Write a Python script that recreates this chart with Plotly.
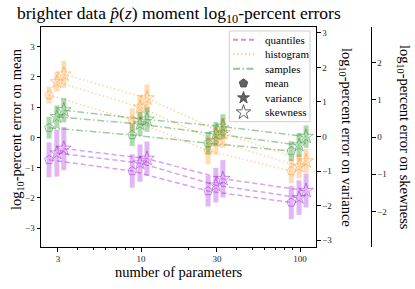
import plotly.graph_objects as go

x_base = [3, 10, 30, 100]
moment_names = ["mean", "variance", "skewness"]
moment_shift = [0.88, 0.985, 1.09]
method_names = ["quantiles", "histogram", "samples"]

# log10-percent errors
quant_mean = [-0.74, -1.11, -1.77, -2.15]
quant_mean_err = [0.58, 0.55, 0.51, 0.55]
quant_var = [-0.48, -0.77, -1.41, -1.77]
quant_var_err = [0.68, 0.54, 0.50, 0.50]
quant_skew = [-0.31, -0.58, -1.12, -1.44]
quant_skew_err = [0.58, 0.46, 0.50, 0.45]

hist_mean = [1.40, 0.58, -0.44, -1.11]
hist_mean_err = [0.28, 0.38, 0.45, 0.40]
hist_var = [1.58, 0.85, -0.13, -0.86]
hist_var_err = [0.28, 0.36, 0.40, 0.35]
hist_skew = [1.68, 1.04, 0.11, -0.65]
hist_skew_err = [0.36, 0.37, 0.40, 0.33]

samp_mean = [0.32, 0.08, -0.19, -0.45]
samp_mean_err = [0.36, 0.36, 0.36, 0.33]
samp_var = [0.57, 0.36, 0.07, -0.25]
samp_var_err = [0.33, 0.35, 0.35, 0.35]
samp_skew = [0.72, 0.47, 0.28, 0.01]
samp_skew_err = [0.33, 0.33, 0.33, 0.30]

data = {
    "quantiles": [(quant_mean, quant_mean_err), (quant_var, quant_var_err), (quant_skew, quant_skew_err)],
    "histogram": [(hist_mean, hist_mean_err), (hist_var, hist_var_err), (hist_skew, hist_skew_err)],
    "samples": [(samp_mean, samp_mean_err), (samp_var, samp_var_err), (samp_skew, samp_skew_err)],
}

colors = {"quantiles": (160, 32, 220), "histogram": (255, 150, 30), "samples": (40, 145, 40)}
line_alpha = {"quantiles": 0.42, "histogram": 0.42, "samples": 0.45}
bar_alpha = {"quantiles": 0.33, "histogram": 0.33, "samples": 0.36}
dashes = {"quantiles": "5px,3px", "histogram": "1.5px,2.5px", "samples": "7px,2.5px,1.5px,2.5px"}
plot_symbols = ["pentagon-open", "star-open", "star-open"]
plot_sizes = [9, 10, 11]
legend_symbols = ["pentagon", "star", "star-open"]
legend_sizes = [9, 9, 11]
yaxes = ["y", "y2", "y3"]

FONT = "Liberation Serif"

def rgba(c, a):
    return "rgba(%d,%d,%d,%.2f)" % (c[0], c[1], c[2], a)

fig = go.Figure()
for m in method_names:
    c = colors[m]
    for k in range(3):
        vals, errs = data[m][k]
        xs = [xb * moment_shift[k] for xb in x_base]
        fig.add_trace(go.Scatter(
            x=xs, y=vals, yaxis=yaxes[k], mode="lines+markers",
            line=dict(color=rgba(c, line_alpha[m]), dash=dashes[m], width=1.5),
            marker=dict(symbol=plot_symbols[k], size=plot_sizes[k], color=rgba(c, 0.5),
                        line=dict(width=1, color=rgba(c, 0.5))),
            error_y=dict(type="data", array=errs, visible=True, thickness=5,
                         width=0, color=rgba(c, bar_alpha[m])),
            showlegend=False, hoverinfo="skip"))

# ---- hand-made legend on a hidden pixel-unit subplot ----
BOX = (229.3, 310.0, 31.0, 121.7)     # left, right, top, bottom (px)
ROWS = [39.7, 54.3, 68.8, 83.3, 97.8, 112.3]
KEY_X = (233.0, 254.0)
TEXT_X = 262.5
fig.add_trace(go.Scatter(
    x=[BOX[0], BOX[1], BOX[1], BOX[0], BOX[0]], y=[BOX[2], BOX[2], BOX[3], BOX[3], BOX[2]],
    xaxis="x2", yaxis="y4", mode="lines", fill="toself",
    fillcolor="rgba(255,255,255,0.82)", line=dict(color="#cfcfcf", width=1),
    showlegend=False, hoverinfo="skip"))
for i, m in enumerate(method_names):
    fig.add_trace(go.Scatter(
        x=list(KEY_X), y=[ROWS[i], ROWS[i]], xaxis="x2", yaxis="y4", mode="lines",
        line=dict(color=rgba(colors[m], 0.5), dash=dashes[m], width=2),
        showlegend=False, hoverinfo="skip"))
for k, mn in enumerate(moment_names):
    fig.add_trace(go.Scatter(
        x=[(KEY_X[0] + KEY_X[1]) / 2], y=[ROWS[3 + k]], xaxis="x2", yaxis="y4", mode="markers",
        marker=dict(symbol=legend_symbols[k], size=legend_sizes[k], color="rgba(70,70,70,0.85)",
                    line=dict(width=1, color="rgba(70,70,70,0.85)")),
        showlegend=False, hoverinfo="skip"))

L, R, T, B = 41, 371, 27, 247
W, H = R - L, B - T
def px(xp):
    return (xp - L) / W
def py(yp):
    return (B - yp) / H

tickfont = dict(family=FONT, size=9, color="#222")
common_y = dict(ticks="outside", ticklen=3.5, tickwidth=0.8, tickcolor="black",
                showline=True, linecolor="black", linewidth=1,
                showgrid=False, zeroline=False, tickfont=tickfont)
fig.update_layout(
    width=415, height=289,
    margin=dict(l=L, r=415 - R, t=T, b=289 - B, pad=0),
    paper_bgcolor="white", plot_bgcolor="white",
    font=dict(family=FONT, size=11, color="black"),
    showlegend=False,
    xaxis=dict(type="log", domain=[0, px(316)], range=[0.371, 2.10],
               tickvals=x_base, ticktext=[str(v) for v in x_base],
               ticks="outside", ticklen=3.5, tickwidth=0.8, tickcolor="black",
               showline=True, linecolor="black", linewidth=1, mirror=True,
               showgrid=False, zeroline=False, tickfont=tickfont,
               minor=dict(tickvals=[4, 5, 6, 7, 8, 9, 20, 40, 50, 60, 70, 80, 90],
                          ticks="outside", ticklen=2, tickwidth=0.6, tickcolor="black")),
    yaxis=dict(range=[-3.62, 3.65], tickvals=[-3, -2, -1, 0, 1, 2, 3], **common_y),
    yaxis2=dict(overlaying="y", side="right", anchor="x", range=[-3.2, 3.17],
                tickvals=[-3, -2, -1, 0, 1, 2, 3], **common_y),
    yaxis3=dict(overlaying="y", side="right", anchor="free", position=1.0,
                range=[-2.95, 2.95], tickvals=[-2, -1, 0, 1, 2], **common_y),
    xaxis2=dict(domain=[px(226), px(313)], range=[226, 313], visible=False,
                anchor="y4", fixedrange=True),
    yaxis4=dict(domain=[py(125), py(28)], range=[125, 28], visible=False,
                anchor="x2", fixedrange=True),
)

ann = [
    dict(text="brighter data <i>p\u0302</i>(<i>z</i>) moment log<sub>10</sub>-percent errors",
         x=px(178.5), y=py(14), font=dict(size=17.5), textangle=0),
    dict(text="log<sub>10</sub>-percent error on mean", x=px(17), y=py(129),
         font=dict(size=14.5), textangle=-90),
    dict(text="log<sub>10</sub>-percent error on variance", x=px(346), y=py(137),
         font=dict(size=14.5), textangle=90),
    dict(text="log<sub>10</sub>-percent error on skewness", x=px(404), y=py(137),
         font=dict(size=14.5), textangle=90),
    dict(text="number of parameters", x=px(178.5), y=py(272), font=dict(size=14.5), textangle=0),
]
for i, m in enumerate(method_names + moment_names):
    ann.append(dict(text=m, x=px(TEXT_X), y=py(ROWS[i]), xanchor="left",
                    font=dict(size=11), textangle=0))
for a in ann:
    a.setdefault("xanchor", "center")
    fig.add_annotation(xref="paper", yref="paper", showarrow=False,
                       yanchor="middle", **a)

fig.write_html("out.html", config={"displayModeBar": False},
               post_script="document.body.style.margin='0';")
